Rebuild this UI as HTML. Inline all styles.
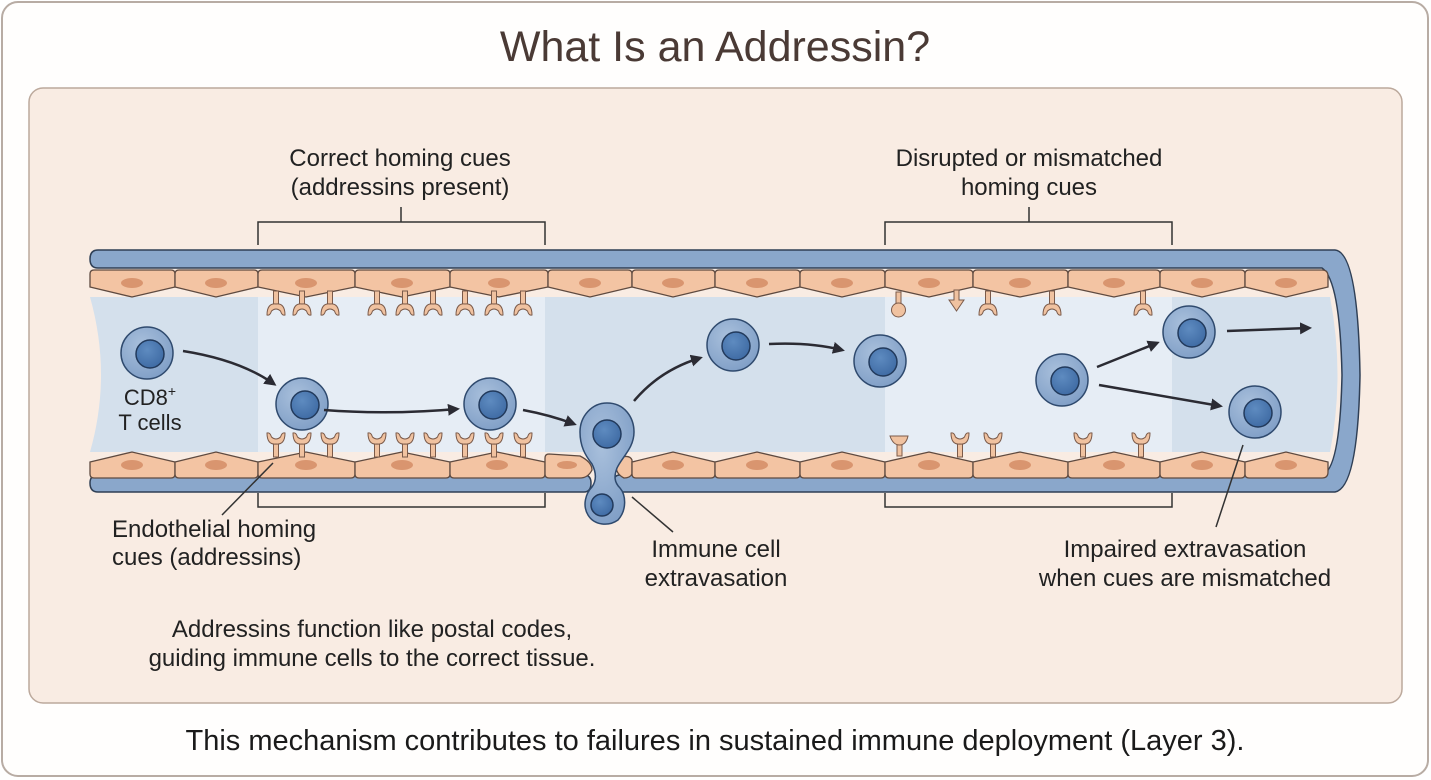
<!DOCTYPE html>
<html><head><meta charset="utf-8"><style>
html,body{margin:0;padding:0;background:#fff;}
svg{display:block;font-family:"Liberation Sans",sans-serif;}
</style></head><body>
<svg width="1431" height="780" viewBox="0 0 1431 780" xmlns="http://www.w3.org/2000/svg">
<defs>
<marker id="ah" markerWidth="12" markerHeight="12" refX="9" refY="6" orient="auto" markerUnits="userSpaceOnUse" viewBox="0 0 12 12"><path d="M0,0 L12,6 L0,12 Z" fill="#2b2b33"/></marker>
<g id="rec"><rect x="-2.5" y="0" width="5" height="14" fill="#f0c2a0" stroke="#7a5a4a" stroke-width="1"/><path d="M-9,24 Q-9,12 0,13 Q9,12 9,24 Q6,25 4.5,20 Q0,16 -4.5,20 Q-6,25 -9,24 Z" fill="#f0c2a0" stroke="#7a5a4a" stroke-width="1"/></g>
<radialGradient id="cg" cx="0.4" cy="0.35" r="0.7"><stop offset="0" stop-color="#a9c0dc"/><stop offset="1" stop-color="#7f9ec6"/></radialGradient>
<radialGradient id="ng" cx="0.4" cy="0.35" r="0.7"><stop offset="0" stop-color="#5e8bc0"/><stop offset="1" stop-color="#3e6aa3"/></radialGradient>
<g id="tc"><circle r="26" fill="url(#cg)" stroke="#2f4a6e" stroke-width="1.5"/><circle cx="3" cy="1" r="14" fill="url(#ng)" stroke="#223a5c" stroke-width="1.5"/></g>
</defs>
<rect x="2" y="2" width="1426" height="774" rx="16" fill="#fffefd" stroke="#b8aca4" stroke-width="2"/>
<text x="715" y="61" font-size="43" text-anchor="middle" fill="#4a3a35">What Is an Addressin?</text>
<rect x="29" y="88" width="1373" height="615" rx="14" fill="#f9ece3" stroke="#bca99c" stroke-width="1.5"/>

<path d="M90,297 L1330,297 Q1345,375 1330,452 L90,452 Q112,375 90,297 Z" fill="#d4e0ec"/>
<rect x="258" y="297" width="287" height="155" fill="#e6edf5"/>
<rect x="885" y="297" width="287" height="155" fill="#e6edf5"/>

<path d="M98,250 L1335,250 Q1358,252 1360,375 Q1358,488 1335,492 L620,492 Q614,492 614,486 L614,481 Q614,475 620,475 L1322,475 Q1340,470 1342,375 Q1340,280 1322,268 L98,268 Q90,268 90,259 Q90,250 98,250 Z" fill="#8aa7cb" stroke="#2f3f55" stroke-width="1.5"/>
<path d="M98,475 L584,475 Q591,475 591,483 Q591,492 584,492 L98,492 Q90,492 90,483 Q90,475 98,475 Z" fill="#8aa7cb" stroke="#2f3f55" stroke-width="1.5"/>

<g fill="#f3c4a3" stroke="#5e4a40" stroke-width="1.3">
<path d="M94,270 H171 Q175,270 175,274 V287 L132,297 L90,287 V274 Q90,270 94,270Z"/>
<path d="M179,270 H254 Q258,270 258,274 V287 L216,297 L175,287 V274 Q175,270 179,270Z"/>
<path d="M262,270 H351 Q355,270 355,274 V287 L306,297 L258,287 V274 Q258,270 262,270Z"/>
<path d="M359,270 H446 Q450,270 450,274 V287 L402,297 L355,287 V274 Q355,270 359,270Z"/>
<path d="M454,270 H544 Q548,270 548,274 V287 L499,297 L450,287 V274 Q450,270 454,270Z"/>
<path d="M552,270 H628 Q632,270 632,274 V287 L590,297 L548,287 V274 Q548,270 552,270Z"/>
<path d="M636,270 H711 Q715,270 715,274 V287 L673,297 L632,287 V274 Q632,270 636,270Z"/>
<path d="M719,270 H796 Q800,270 800,274 V287 L757,297 L715,287 V274 Q715,270 719,270Z"/>
<path d="M804,270 H881 Q885,270 885,274 V287 L842,297 L800,287 V274 Q800,270 804,270Z"/>
<path d="M889,270 H969 Q973,270 973,274 V287 L929,297 L885,287 V274 Q885,270 889,270Z"/>
<path d="M977,270 H1064 Q1068,270 1068,274 V287 L1020,297 L973,287 V274 Q973,270 977,270Z"/>
<path d="M1072,270 H1156 Q1160,270 1160,274 V287 L1114,297 L1068,287 V274 Q1068,270 1072,270Z"/>
<path d="M1164,270 H1241 Q1245,270 1245,274 V287 L1202,297 L1160,287 V274 Q1160,270 1164,270Z"/>
<path d="M1249,270 H1322 Q1328,270 1328,276 V287 L1286,297 L1245,287 V274 Q1245,270 1249,270Z"/>
</g>
<g fill="#d9956f">
<ellipse cx="132" cy="283" rx="11" ry="5"/><ellipse cx="216" cy="283" rx="11" ry="5"/><ellipse cx="306" cy="283" rx="11" ry="5"/><ellipse cx="402" cy="283" rx="11" ry="5"/><ellipse cx="499" cy="283" rx="11" ry="5"/><ellipse cx="590" cy="283" rx="11" ry="5"/><ellipse cx="673" cy="283" rx="11" ry="5"/><ellipse cx="757" cy="283" rx="11" ry="5"/><ellipse cx="842" cy="283" rx="11" ry="5"/><ellipse cx="929" cy="283" rx="11" ry="5"/><ellipse cx="1020" cy="283" rx="11" ry="5"/><ellipse cx="1114" cy="283" rx="11" ry="5"/><ellipse cx="1202" cy="283" rx="11" ry="5"/><ellipse cx="1286" cy="283" rx="11" ry="5"/>
</g>
<g fill="#f3c4a3" stroke="#5e4a40" stroke-width="1.3">
<path d="M90,462 L132,452 L175,462 V474 Q175,478 171,478 H94 Q90,478 90,474Z"/>
<path d="M175,462 L216,452 L258,462 V474 Q258,478 254,478 H179 Q175,478 175,474Z"/>
<path d="M258,462 L306,452 L355,462 V474 Q355,478 351,478 H262 Q258,478 258,474Z"/>
<path d="M355,462 L402,452 L450,462 V474 Q450,478 446,478 H359 Q355,478 355,474Z"/>
<path d="M450,462 L497,452 L545,462 V474 Q545,478 541,478 H454 Q450,478 450,474Z"/>
<path d="M549,454 L580,456 Q592,462 592,470 Q588,478 580,478 H549 Q545,478 545,474 V458 Q545,454 549,454Z"/>
<path d="M622,457 Q630,455 632,460 V474 Q630,478 624,478 Q616,474 616,466 Q617,459 622,457Z"/>
<path d="M632,462 L673,452 L715,462 V474 Q715,478 711,478 H636 Q632,478 632,474Z"/>
<path d="M715,462 L757,452 L800,462 V474 Q800,478 796,478 H719 Q715,478 715,474Z"/>
<path d="M800,462 L842,452 L885,462 V474 Q885,478 881,478 H804 Q800,478 800,474Z"/>
<path d="M885,462 L929,452 L973,462 V474 Q973,478 969,478 H889 Q885,478 885,474Z"/>
<path d="M973,462 L1020,452 L1068,462 V474 Q1068,478 1064,478 H977 Q973,478 973,474Z"/>
<path d="M1068,462 L1114,452 L1160,462 V474 Q1160,478 1156,478 H1072 Q1068,478 1068,474Z"/>
<path d="M1160,462 L1202,452 L1245,462 V474 Q1245,478 1241,478 H1164 Q1160,478 1160,474Z"/>
<path d="M1245,462 L1286,452 L1328,462 V472 Q1328,478 1322,478 H1249 Q1245,478 1245,474Z"/>
</g>
<g fill="#d9956f">
<ellipse cx="132" cy="465" rx="11" ry="5"/><ellipse cx="216" cy="465" rx="11" ry="5"/><ellipse cx="306" cy="465" rx="11" ry="5"/><ellipse cx="402" cy="465" rx="11" ry="5"/><ellipse cx="497" cy="465" rx="11" ry="5"/><ellipse cx="567" cy="465" rx="10" ry="4"/><ellipse cx="673" cy="465" rx="11" ry="5"/><ellipse cx="757" cy="465" rx="11" ry="5"/><ellipse cx="842" cy="465" rx="11" ry="5"/><ellipse cx="929" cy="465" rx="11" ry="5"/><ellipse cx="1020" cy="465" rx="11" ry="5"/><ellipse cx="1114" cy="465" rx="11" ry="5"/><ellipse cx="1202" cy="465" rx="11" ry="5"/><ellipse cx="1286" cy="465" rx="11" ry="5"/>
</g>

<use href="#rec" transform="translate(276,291)"/><use href="#rec" transform="translate(302,291)"/><use href="#rec" transform="translate(330,291)"/>
<use href="#rec" transform="translate(377,291)"/><use href="#rec" transform="translate(405,291)"/><use href="#rec" transform="translate(433,291)"/>
<use href="#rec" transform="translate(465,291)"/><use href="#rec" transform="translate(494,291)"/><use href="#rec" transform="translate(523,291)"/>
<use href="#rec" transform="translate(988,291)"/><use href="#rec" transform="translate(1052,291)"/><use href="#rec" transform="translate(1143,291)"/>
<g fill="#f0c2a0" stroke="#7a5a4a" stroke-width="1">
<rect x="896" y="292" width="5" height="12"/><circle cx="898.5" cy="310" r="7"/>
<path d="M954,290 h5 v10 h5 l-7.5,11 l-7.5,-11 h5 Z"/>
<rect x="897" y="442" width="5" height="14"/><path d="M890,436 Q899,436 908,436 Q906,445 899.5,445 Q893,445 890,436Z"/>
</g>
<use href="#rec" transform="translate(276,457) scale(1,-1)"/><use href="#rec" transform="translate(302,457) scale(1,-1)"/><use href="#rec" transform="translate(330,457) scale(1,-1)"/>
<use href="#rec" transform="translate(377,457) scale(1,-1)"/><use href="#rec" transform="translate(405,457) scale(1,-1)"/><use href="#rec" transform="translate(433,457) scale(1,-1)"/>
<use href="#rec" transform="translate(465,457) scale(1,-1)"/><use href="#rec" transform="translate(494,457) scale(1,-1)"/><use href="#rec" transform="translate(523,457) scale(1,-1)"/>
<use href="#rec" transform="translate(960,457) scale(1,-1)"/><use href="#rec" transform="translate(993,457) scale(1,-1)"/><use href="#rec" transform="translate(1083,457) scale(1,-1)"/><use href="#rec" transform="translate(1141,457) scale(1,-1)"/>

<use href="#tc" transform="translate(147,353)"/>
<use href="#tc" transform="translate(302,404)"/>
<use href="#tc" transform="translate(490,404)"/>
<use href="#tc" transform="translate(733,345)"/>
<use href="#tc" transform="translate(880,361)"/>
<use href="#tc" transform="translate(1062,380)"/>
<use href="#tc" transform="translate(1189,332)"/>
<use href="#tc" transform="translate(1255,412)"/>
<path d="M607,403 C625,403 634,418 634,432 C634,448 622,457 617,468 C614,476 614,482 620,488 C626,495 627,510 618,520 C608,527 594,525 588,515 C582,505 586,493 592,487 C597,480 596,472 592,464 C585,455 580,446 580,432 C580,416 592,403 607,403 Z" fill="url(#cg)" stroke="#2f4a6e" stroke-width="1.5"/>
<circle cx="607" cy="434" r="14" fill="url(#ng)" stroke="#223a5c" stroke-width="1.5"/>
<circle cx="602" cy="505" r="11" fill="url(#ng)" stroke="#223a5c" stroke-width="1.5"/>

<g fill="none" stroke="#2b2b33" stroke-width="2.5" marker-end="url(#ah)">
<path d="M183,351 Q240,360 274,384"/>
<path d="M324,410 Q390,415 457,409"/>
<path d="M523,410 Q550,415 574,424"/>
<path d="M634,401 Q660,370 700,358"/>
<path d="M769,344 Q810,342 842,350"/>
<path d="M1097,367 L1157,343"/>
<path d="M1099,385 L1220,406"/>
<path d="M1227,331 L1309,328"/>
</g>

<g fill="none" stroke="#333" stroke-width="1.5">
<path d="M258,245 V222 H545 V245 M401,222 V207"/>
<path d="M885,245 V222 H1172 V245 M1029,222 V207"/>
<path d="M258,493 V507 H545 V493"/>
<path d="M885,493 V507 H1172 V493"/>
<path d="M273,463 L222,515"/>
<path d="M632,497 L673,532"/>
<path d="M1243,445 L1216,527"/>
</g>

<g font-size="24" fill="#222" text-anchor="middle">
<text x="400" y="166">Correct homing cues</text>
<text x="400" y="195">(addressins present)</text>
<text x="1029" y="166">Disrupted or mismatched</text>
<text x="1029" y="195">homing cues</text>
<text x="150" y="405" font-size="22">CD8<tspan font-size="14" dy="-9">+</tspan></text>
<text x="150" y="430" font-size="22">T cells</text>
<text x="112" y="537" text-anchor="start">Endothelial homing</text>
<text x="112" y="565" text-anchor="start">cues (addressins)</text>
<text x="716" y="557">Immune cell</text>
<text x="716" y="586">extravasation</text>
<text x="1185" y="557">Impaired extravasation</text>
<text x="1185" y="586">when cues are mismatched</text>
<text x="372" y="637">Addressins function like postal codes,</text>
<text x="372" y="666">guiding immune cells to the correct tissue.</text>
</g>
<text x="715" y="750" font-size="29" text-anchor="middle" fill="#1a1a1a">This mechanism contributes to failures in sustained immune deployment (Layer 3).</text>
</svg>
</body></html>
